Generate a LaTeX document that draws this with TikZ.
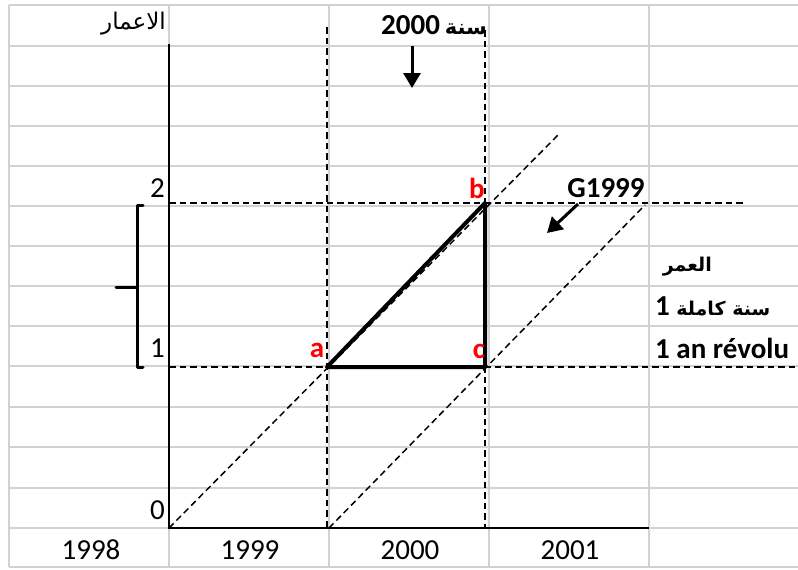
\documentclass[tikz,border=0pt]{standalone}
\usepackage{fontspec}
\setmainfont{Carlito}
\newfontfamily\arabicfont[Script=Arabic]{DejaVu Sans}
\TeXXeTstate=1
\usetikzlibrary{arrows.meta}
\begin{document}
\begin{tikzpicture}[x=1pt,y=-1pt,
 gridline/.style={draw=gray!35,line width=1.6pt},
 axisline/.style={line width=1.7pt},
 dsh/.style={line width=1.5pt,dash pattern=on 6.5pt off 4pt},
 tri/.style={line width=4pt,line cap=round,line join=round},
 brk/.style={line width=3pt,line cap=round,line join=round},
 lbl/.style={font=\fontsize{29}{32}\selectfont,inner sep=0pt},
 blbl/.style={font=\fontsize{29}{32}\selectfont\bfseries,inner sep=0pt},
 arlbl/.style={font=\fontsize{23}{26}\selectfont\arabicfont,inner sep=0pt},
 ptlbl/.style={font=\fontsize{29}{32}\selectfont\bfseries,text=red,inner sep=0pt},
 arr/.style={line width=3pt,-{Triangle[length=15pt,width=17pt]}}
]
\useasboundingbox (0,0) rectangle (798,570);
\fill[white] (0,0) rectangle (798,570);
% grid
\foreach \x in {9,169,329,489,649} \draw[gridline] (\x,5) -- (\x,567);
\foreach \y in {5,46,86,126,166,206,246,286,326,366,407,447,488,528,567} \draw[gridline] (9,\y) -- (798,\y);
% axes
\coordinate (O) at (169,528);
\coordinate (Ytop) at (169,44);
\coordinate (Xend) at (649,528);
\draw[axisline] (Ytop) -- (O) -- (Xend);
% points
\coordinate (a) at (327,367);
\coordinate (b) at (485,203);
\coordinate (c) at (485,367);
% dashed guides
\coordinate (h2s) at (169,203);
\coordinate (h2e) at (745,203);
\coordinate (h1s) at (169,367);
\coordinate (h1e) at (798,367);
\coordinate (v1t) at (327,27);
\coordinate (v1b) at (327,528);
\coordinate (v2t) at (485,30);
\coordinate (v2b) at (485,528);
\coordinate (d1e) at (560,133);
\coordinate (d2s) at (329,528);
\coordinate (d2e) at (645,205);
\draw[dsh] (h2s) -- (h2e);
\draw[dsh] (h1s) -- (h1e);
\draw[dsh] (v1t) -- (v1b);
\draw[dsh] (v2t) -- (v2b);
\draw[dsh] (O) -- (d1e);
\draw[dsh] (d2s) -- (d2e);
% triangle
\draw[tri] (a) -- (b) -- (c) -- cycle;
% bracket
\coordinate (bt) at (143,205);
\coordinate (btc) at (137,205);
\coordinate (bbc) at (137,367);
\coordinate (bb) at (143,367);
\coordinate (bm) at (137,287);
\coordinate (bml) at (116,287);
\draw[brk] (bt) -- (btc) -- (bbc) -- (bb);
\draw[brk] (bm) -- (bml);
% arrows
\coordinate (ar1s) at (412,46);
\coordinate (ar1e) at (412,88);
\coordinate (ar2s) at (578,204);
\coordinate (ar2e) at (547,233);
\draw[arr] (ar1s) -- (ar1e);
\draw[arr] (ar2s) -- (ar2e);
% labels
\node[arlbl,anchor=east] (ages) at (166,24) {\beginR الاعمار\endR};
\node[lbl,anchor=east] (l2) at (165,188) {2};
\node[lbl,anchor=east] (l1) at (165,348) {1};
\node[lbl,anchor=east] (l0) at (165,510) {0};
\node[lbl] (y98) at (91,550) {1998};
\node[lbl] (y99) at (250,550) {1999};
\node[lbl] (y00) at (410,550) {2000};
\node[lbl] (y01) at (570,550) {2001};
\node[blbl,anchor=east] (s2000) at (487,25) {2000\,{\arabicfont\fontsize{21}{24}\selectfont\beginR سنة\endR}};
\node[ptlbl] (la) at (317,350) {a};
\node[ptlbl] (lb) at (477,188) {b};
\node[ptlbl] (lc) at (479,351) {c};
\node[blbl] (g99) at (606,188) {G1999};
\node[arlbl,font=\fontsize{19}{22}\selectfont\arabicfont\bfseries,anchor=east] (age) at (712,267) {\beginR العمر\endR};
\node[blbl,anchor=west] (kamila) at (655,306) {1 {\arabicfont\fontsize{19}{22}\selectfont\beginR سنة كاملة\endR}};
\node[blbl,anchor=west] (revolu) at (655,348) {1 an révolu};
\end{tikzpicture}
\end{document}
